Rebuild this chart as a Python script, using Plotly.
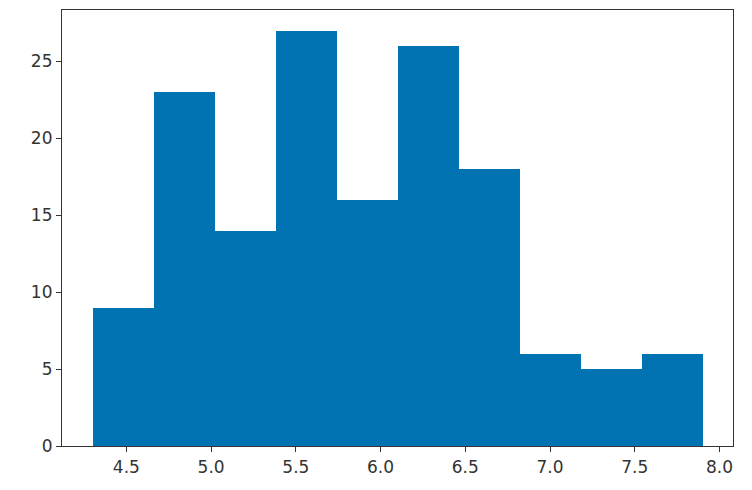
import plotly.graph_objects as go

bin_edges = [4.3, 4.66, 5.02, 5.38, 5.74, 6.1, 6.46, 6.82, 7.18, 7.54, 7.9]
counts = [9, 23, 14, 27, 16, 26, 18, 6, 5, 6]
x_ticks = [4.5, 5.0, 5.5, 6.0, 6.5, 7.0, 7.5, 8.0]
y_ticks = [0, 5, 10, 15, 20, 25]

centers = [(a + b) / 2 for a, b in zip(bin_edges[:-1], bin_edges[1:])]
widths = [b - a for a, b in zip(bin_edges[:-1], bin_edges[1:])]

fig = go.Figure(go.Bar(
    x=centers, y=counts, width=widths,
    marker=dict(color="#0173b2", line=dict(width=0)),
))

span = bin_edges[-1] - bin_edges[0]
fig.update_layout(
    width=752, height=490,
    margin=dict(l=54, r=27, t=2, b=52),
    paper_bgcolor="white", plot_bgcolor="white",
    font=dict(family="DejaVu Sans", size=17, color="#333333"),
    showlegend=False, bargap=0,
)
axis_common = dict(
    showline=True, linecolor="#333333", linewidth=1.2, mirror=True,
    showgrid=False, zeroline=False,
    ticks="outside", ticklen=5, tickwidth=1, tickcolor="#333333",
)
fig.update_xaxes(range=[bin_edges[0] - 0.05 * span, bin_edges[-1] + 0.05 * span],
                 tickvals=x_ticks, ticktext=[f"{v:.1f}" for v in x_ticks], **axis_common)
fig.update_yaxes(range=[0, max(counts) * 1.05], tickvals=y_ticks, **axis_common)

fig.write_html("out.html")
